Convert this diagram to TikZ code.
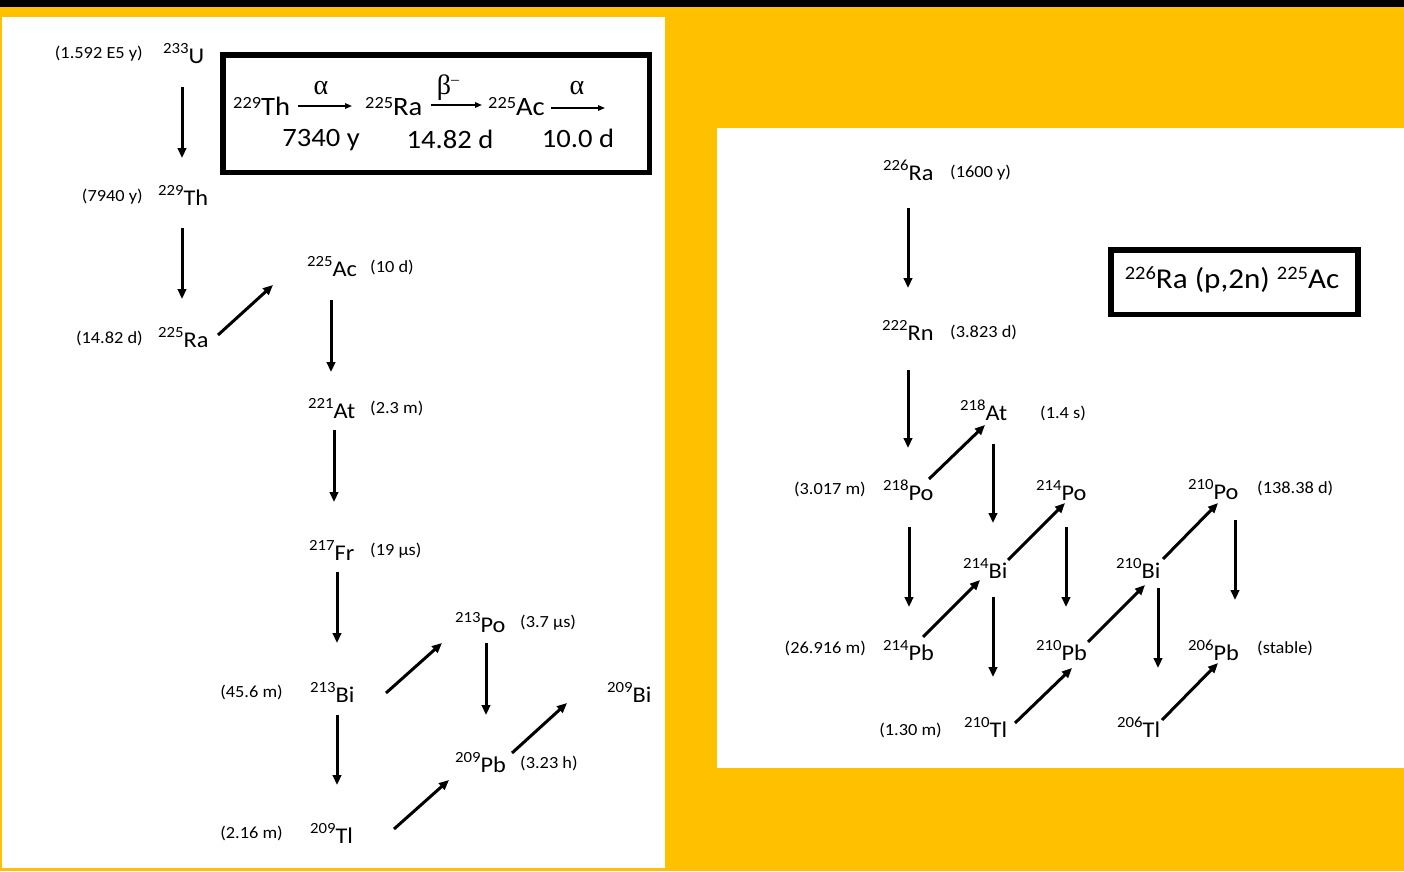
\documentclass[tikz,border=0pt]{standalone}
\usepackage{fontspec}
\setmainfont[FakeStretch=1.08]{Carlito}
\newfontfamily\grk{Liberation Serif}
\usetikzlibrary{arrows.meta}
\definecolor{gold}{HTML}{FFC000}
\newcommand\iso[2]{\raisebox{10pt}{\fontsize{15.5}{15.5}\selectfont #1}#2}
\newcommand\isob[2]{\raisebox{6.5pt}{\fontsize{17}{17}\selectfont #1}#2}
\newcommand\link[6]{\draw[arr] ([shift={(#2,#3)}]#1.base west) -- ([shift={(#5,#6)}]#4.base west);}
\begin{document}
\begin{tikzpicture}[x=1pt,y=-1pt,
  el/.style={anchor=base west,inner sep=0pt,font=\fontsize{22.5}{26}\selectfont},
  hle/.style={anchor=base east,inner sep=0pt,font=\fontsize{17}{20}\selectfont},
  hlw/.style={anchor=base west,inner sep=0pt,font=\fontsize{17}{20}\selectfont},
  arr/.style={line width=3pt,-{Triangle[length=10pt,width=8.5pt]}},
  thin/.style={line width=1.5pt,-{Triangle[length=7pt,width=5.5pt]}},
  bx/.style={inner sep=0pt,font=\fontsize{26.5}{30}\selectfont},
  frame/.style={line width=5.5pt}]
\useasboundingbox (0,0) rectangle (1404,871);
% background
\fill[gold] (0,0) rectangle (1404,871);
\fill[black] (0,0) rectangle (1404,7);
\fill[white] (2,17) rectangle (665,868);
\fill[white] (717,128) rectangle (1404,768);

% ---------- left panel ----------
\node[el] (U233) at (163,63) {\iso{233}{U}};
\node[el] (Th229) at (158,205) {\iso{229}{Th}};
\node[el] (Ra225) at (158,347) {\iso{225}{Ra}};
\node[el] (Ac225) at (307,276) {\iso{225}{Ac}};
\node[el] (At221) at (308,418) {\iso{221}{At}};
\node[el] (Fr217) at (309,560) {\iso{217}{Fr}};
\node[el] (Bi213) at (310,702) {\iso{213}{Bi}};
\node[el] (Tl209) at (310,843) {\iso{209}{Tl}};
\node[el] (Po213) at (455,632) {\iso{213}{Po}};
\node[el] (Pb209) at (455,772) {\iso{209}{Pb}};
\node[el] (Bi209) at (607,702) {\iso{209}{Bi}};

\node[hle] (hU) at (143,58) {(1.592 E5 y)};
\node[hle] (hTh) at (143,201) {(7940 y)};
\node[hle] (hRa) at (143,343) {(14.82 d)};
\node[hle] (hBi) at (283,697) {(45.6 m)};
\node[hle] (hTl) at (283,838) {(2.16 m)};
\node[hlw] (hAc) at (370,272) {(10 d)};
\node[hlw] (hAt) at (370,413) {(2.3 m)};
\node[hlw] (hFr) at (370,555) {(19 µs)};
\node[hlw] (hPo) at (520,627) {(3.7 µs)};
\node[hlw] (hPb) at (520,768) {(3.23 h)};

\link{U233}{19}{24}{Th229}{24}{-47}
\link{Th229}{24}{23}{Ra225}{24}{-48}
\link{Ra225}{60}{-12}{Ac225}{-34}{9}
\link{Ac225}{24}{24}{At221}{23}{-46}
\link{At221}{26}{12}{Fr217}{25}{-58}
\link{Fr217}{28}{12}{Bi213}{27}{-59}
\link{Bi213}{27}{13}{Tl209}{27}{-58}
\link{Bi213}{76}{-9}{Po213}{-13}{11}
\link{Po213}{31}{11}{Pb209}{31}{-57}
\link{Tl209}{84}{-14}{Pb209}{-6}{8}
\link{Pb209}{57}{-19}{Bi209}{-40}{1}

% box left
\draw[frame] (222.75,54.75) rectangle (649.25,172.25);
\node[bx,anchor=base west] (bTh) at (233,115) {\isob{229}{Th}};
\node[bx,anchor=base west] (bRa) at (365,115) {\isob{225}{Ra}};
\node[bx,anchor=base west] (bAc) at (488,115) {\isob{225}{Ac}};
\coordinate (bEnd) at (605,108);
\draw[thin] ([shift={(8,-9)}]bTh.base east) -- ([shift={(-13,-9)}]bRa.base west);
\draw[thin] ([shift={(8,-10)}]bRa.base east) -- ([shift={(-6,-10)}]bAc.base west);
\draw[thin] ([shift={(6,-7)}]bAc.base east) -- (bEnd);
\node[bx,anchor=base,font=\grk\fontsize{28}{30}\selectfont] (a1) at (321,94) {α};
\node[bx,anchor=base,font=\grk\fontsize{28}{30}\selectfont] (b1) at (448,94) {β\raisebox{10pt}{\fontsize{16}{16}\selectfont –}};
\node[bx,anchor=base,font=\grk\fontsize{28}{30}\selectfont] (a2) at (577,94) {α};
\node[bx,anchor=base] (t1) at (321,146) {7340 y};
\node[bx,anchor=base] (t2) at (450,148) {14.82 d};
\node[bx,anchor=base] (t3) at (578,147) {10.0 d};

% ---------- right panel ----------
\node[el] (Ra226) at (883,180) {\iso{226}{Ra}};
\node[el] (Rn222) at (882,340) {\iso{222}{Rn}};
\node[el] (At218) at (960,420) {\iso{218}{At}};
\node[el] (Po218) at (883,500) {\iso{218}{Po}};
\node[el] (Po214) at (1036,500) {\iso{214}{Po}};
\node[el] (Bi214) at (963,578) {\iso{214}{Bi}};
\node[el] (Pb214) at (883,660) {\iso{214}{Pb}};
\node[el] (Pb210) at (1036,660) {\iso{210}{Pb}};
\node[el] (Tl210) at (964,737) {\iso{210}{Tl}};
\node[el] (Bi210) at (1116,578) {\iso{210}{Bi}};
\node[el] (Po210) at (1188,499) {\iso{210}{Po}};
\node[el] (Pb206) at (1188,660) {\iso{206}{Pb}};
\node[el] (Tl206) at (1117,737) {\iso{206}{Tl}};

\node[hlw] (hRa226) at (950,177) {(1600 y)};
\node[hlw] (hRn) at (950,337) {(3.823 d)};
\node[hlw] (hAt218) at (1040,418) {(1.4 s)};
\node[hle] (hPo218) at (866,494) {(3.017 m)};
\node[hle] (hPb214) at (866,653) {(26.916 m)};
\node[hle] (hTl210) at (942,735) {(1.30 m)};
\node[hlw] (hPo210) at (1257,493) {(138.38 d)};
\node[hlw] (hPb206) at (1257,653) {(stable)};

\link{Ra226}{25}{28}{Rn222}{26}{-52}
\link{Rn222}{26}{30}{Po218}{25}{-52}
\link{Po218}{46}{-21}{At218}{25}{5}
\link{At218}{33}{24}{Bi214}{30}{-55}
\link{Po218}{26}{27}{Pb214}{26}{-53}
\link{Bi214}{45}{-18}{Po214}{29}{3}
\link{Pb214}{40}{-23}{Bi214}{17}{2}
\link{Bi214}{30}{19}{Tl210}{29}{-60}
\link{Po214}{30}{27}{Pb210}{30}{-53}
\link{Tl210}{51}{-14}{Pb210}{36}{8}
\link{Pb210}{52}{-18}{Bi210}{29}{7}
\link{Bi210}{47}{-19}{Po210}{30}{4}
\link{Po210}{47}{21}{Pb206}{47}{-60}
\link{Bi210}{42}{10}{Tl206}{41}{-69}
\link{Tl206}{45}{-17}{Pb206}{30}{3}

% box right
\draw[frame] (1110.75,249.75) rectangle (1357.75,314.25);
\node[inner sep=0pt,anchor=base,font=\fontsize{28.8}{33}\selectfont] (rx) at (1232,288)
  {\raisebox{9pt}{\fontsize{19}{19}\selectfont 226}Ra (p,2n) \raisebox{9pt}{\fontsize{19}{19}\selectfont 225}Ac};
\end{tikzpicture}
\end{document}
